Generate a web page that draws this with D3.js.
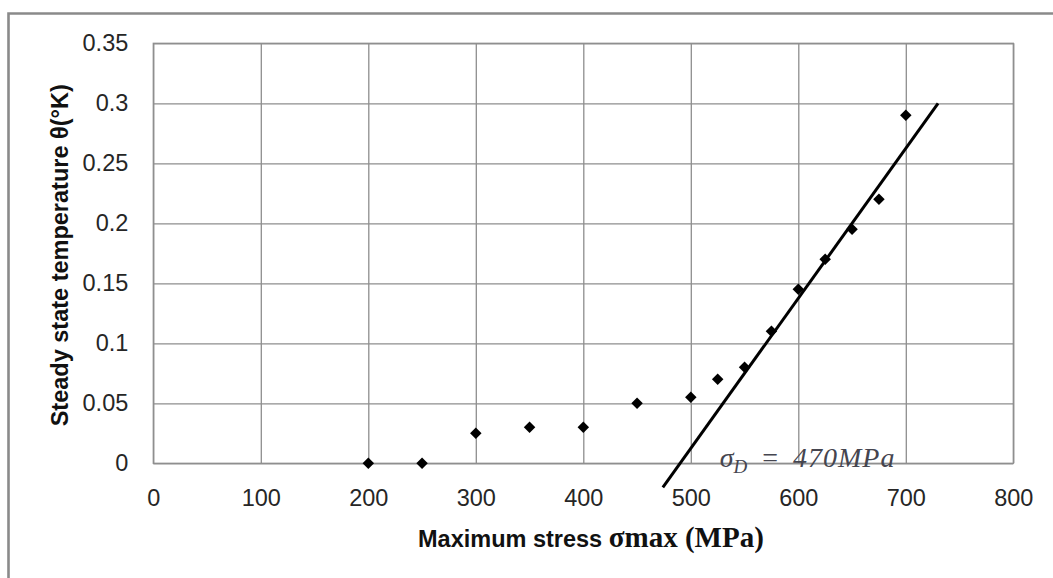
<!DOCTYPE html>
<html>
<head>
<meta charset="utf-8">
<script src="https://cdn.jsdelivr.net/npm/d3@7"></script>
<style>
  html, body { margin: 0; padding: 0; background: #fff; }
  svg { display: block; }
</style>
</head>
<body>
<svg id="chart" width="1053" height="578"></svg>
<script>
// ---- data ----
const stress = [200, 250, 300, 350, 400, 450, 500, 525, 550, 575, 600, 625, 650, 675, 700];
const temperature = [0, 0, 0.025, 0.03, 0.03, 0.05, 0.055, 0.07, 0.08, 0.11, 0.145, 0.17, 0.195, 0.22, 0.29];
const trendX = [474, 730];
const trendY = [-0.02, 0.30];
const xTicks = [0, 100, 200, 300, 400, 500, 600, 700, 800];
const yTicks = [0, 0.05, 0.1, 0.15, 0.2, 0.25, 0.3, 0.35];
const yTickLabels = ["0", "0.05", "0.1", "0.15", "0.2", "0.25", "0.3", "0.35"];
const annotationX = 525;

// ---- layout ----
const svg = d3.select("#chart");
const pLeft = 153.3, pRight = 1013.3, pTop = 43.3, pBottom = 463.3;
const x = d3.scaleLinear().domain([0, 800]).range([pLeft, pRight]);
const y = d3.scaleLinear().domain([0, 0.35]).range([pBottom, pTop]);
const gridColor = "#8e8e8e";
const tickFont = "'Liberation Sans', Arial, sans-serif";

// outer frame (cut off at right/bottom)
svg.append("path")
  .attr("d", "M8.5,590 L8.5,13.5 L1070,13.5")
  .attr("fill", "none").attr("stroke", "#8a8a8a").attr("stroke-width", 2.6);

// y grid + labels
const yAxis = svg.append("g")
  .attr("transform", `translate(${pLeft},0)`)
  .call(d3.axisLeft(y).tickValues(yTicks)
    .tickFormat((d, i) => yTickLabels[i])
    .tickSize(-(pRight - pLeft)).tickPadding(25));
yAxis.select(".domain").remove();
yAxis.selectAll("line").attr("stroke", gridColor).attr("stroke-width", 1.3);
yAxis.selectAll("text").attr("font-family", tickFont).attr("font-size", 23.5).attr("fill", "#262626");

// x grid + labels
const xAxis = svg.append("g")
  .attr("transform", `translate(0,${pBottom})`)
  .call(d3.axisBottom(x).tickValues(xTicks).tickFormat(d3.format("d"))
    .tickSize(-(pBottom - pTop)).tickPadding(27));
xAxis.select(".domain").remove();
xAxis.selectAll("line").attr("stroke", gridColor).attr("stroke-width", 1.3);
xAxis.selectAll("text").attr("font-family", tickFont).attr("font-size", 23.5).attr("fill", "#262626")
  .attr("dy", "0").attr("y", 43);

// plot border
svg.append("rect")
  .attr("x", pLeft).attr("y", pTop)
  .attr("width", pRight - pLeft).attr("height", pBottom - pTop)
  .attr("fill", "none").attr("stroke", gridColor).attr("stroke-width", 1.3);

// trend line
const line = d3.line().x(d => x(d[0])).y(d => y(d[1]));
svg.append("path")
  .datum(trendX.map((v, i) => [v, trendY[i]]))
  .attr("d", line)
  .attr("fill", "none").attr("stroke", "#000").attr("stroke-width", 3);

// markers
svg.append("g").selectAll("path")
  .data(stress.map((v, i) => [v, temperature[i]]))
  .join("path")
  .attr("d", d3.symbol(d3.symbolSquare, 66))
  .attr("transform", d => `translate(${x(d[0])},${y(d[1])}) rotate(45)`)
  .attr("fill", "#000");

// annotation
const ann = svg.append("text")
  .attr("x", x(annotationX) + 2).attr("y", y(0) + 4)
  .attr("font-family", "'Liberation Serif', 'DejaVu Serif', serif")
  .attr("font-style", "italic")
  .attr("font-size", 28)
  .attr("fill", "#45454f");
ann.append("tspan").text("σ");
ann.append("tspan").attr("font-size", 19).attr("dy", 6).text("D");
ann.append("tspan").attr("dy", -6).attr("dx", 15).attr("font-style", "normal").text("=");
ann.append("tspan").attr("dx", 15).attr("letter-spacing", 1).text("470MPa");

// y axis title
svg.append("text")
  .attr("transform", `translate(68,${(pTop + pBottom) / 2 + 2}) rotate(-90)`)
  .attr("text-anchor", "middle")
  .attr("font-family", tickFont)
  .attr("font-weight", "bold")
  .attr("font-size", 23.5)
  .attr("fill", "#111")
  .text("Steady state temperature θ(°K)");

// x axis title
const xt = svg.append("text")
  .attr("x", 418).attr("y", 547)
  .attr("font-weight", "bold")
  .attr("fill", "#111");
xt.append("tspan").attr("font-family", tickFont).attr("font-size", 23.5).text("Maximum stress ");
xt.append("tspan").attr("font-family", "'Liberation Serif', 'Times New Roman', serif").attr("font-size", 29).text("σmax (MPa)");
</script>
</body>
</html>
